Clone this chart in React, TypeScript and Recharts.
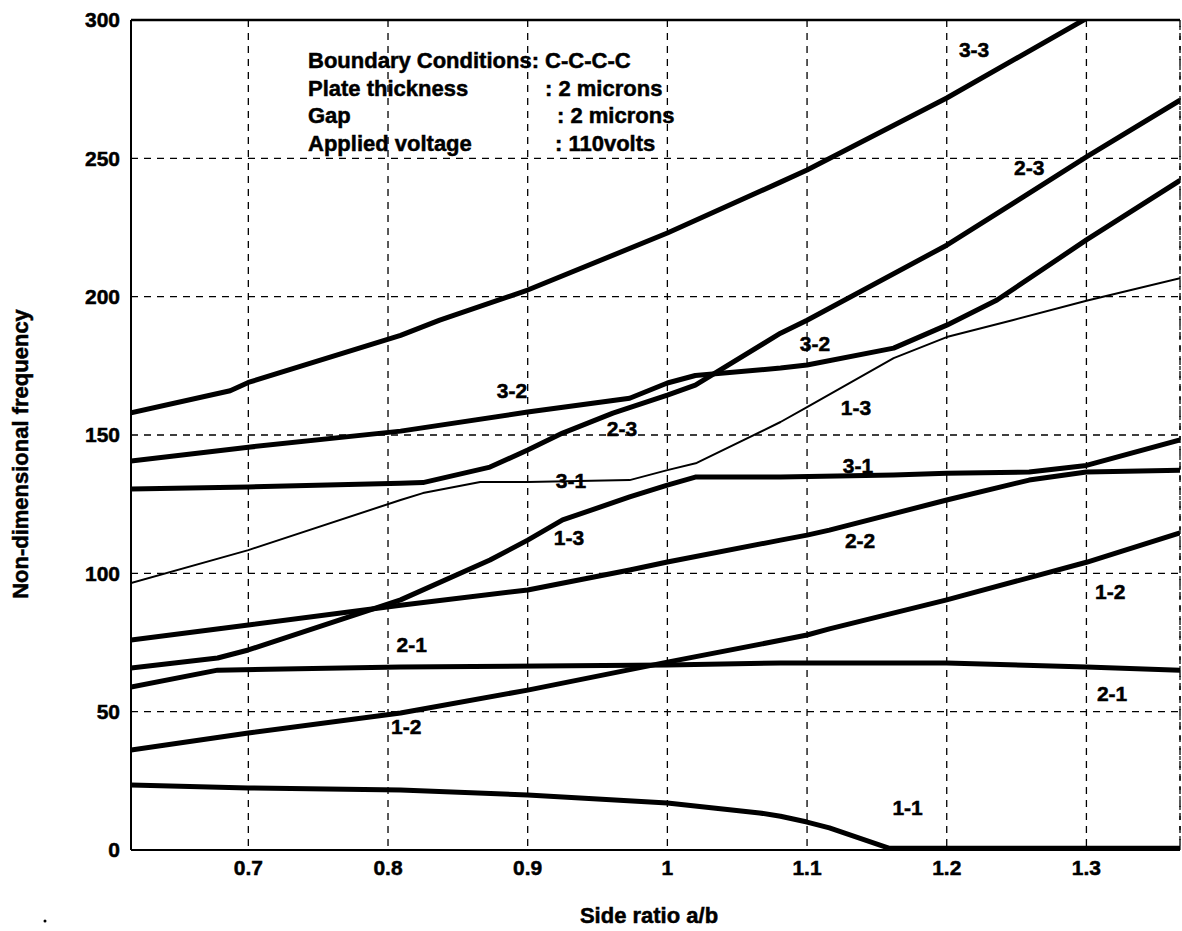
import React from 'react';
import {
  LineChart, Line, XAxis, YAxis, CartesianGrid, ReferenceLine, ReferenceDot,
} from 'recharts';

// Non-dimensional frequency vs side ratio a/b, clamped plate (C-C-C-C)
// Each curve is a list of [a/b, frequency] pairs.

const X_TICKS = [0.7, 0.8, 0.9, 1, 1.1, 1.2, 1.3];
const Y_TICKS = [0, 50, 100, 150, 200, 250, 300];
const X_DOMAIN: [number, number] = [0.616, 1.367];

const MODE_3_3: [number, number][] = [
  [0.616, 158], [0.687, 166], [0.7, 169], [0.809, 186], [0.837, 191.5],
  [0.9, 202.4], [1.0, 223], [1.081, 241.4], [1.1, 245.8], [1.2, 271.8],
  [1.298, 300], [1.367, 320],
];

const MODE_3_2: [number, number][] = [
  [0.616, 140.6], [0.7, 145.6], [0.809, 151.4], [0.9, 158.3], [0.973, 163.3],
  [1.0, 168.8], [1.02, 171.5], [1.081, 174.2], [1.1, 175.3], [1.162, 181.4],
  [1.2, 189.7], [1.236, 198.8], [1.3, 220.5], [1.367, 242],
];

const MODE_2_3: [number, number][] = [
  [0.616, 130.5], [0.7, 131.2], [0.809, 132.6], [0.825, 132.8], [0.873, 138.4],
  [0.9, 144.6], [0.925, 150.7], [0.961, 157.9], [1.0, 164.4], [1.02, 168],
  [1.081, 186.8], [1.1, 191.5], [1.2, 218.6], [1.3, 250.5], [1.367, 271],
];

// thin curve
const MODE_1_3_THIN: [number, number][] = [
  [0.616, 96.5], [0.7, 108.4], [0.809, 126.5], [0.825, 129], [0.866, 133],
  [0.9, 133], [0.973, 133.7], [1.0, 137.3], [1.021, 139.9], [1.081, 154.7],
  [1.1, 160.1], [1.162, 177.8], [1.2, 185.4], [1.247, 191.5], [1.3, 198.5],
  [1.367, 206.7],
];

const MODE_1_3: [number, number][] = [
  [0.616, 65.8], [0.678, 69.4], [0.7, 72.3], [0.809, 90.4], [0.873, 104.8],
  [0.9, 112], [0.925, 119.3], [0.973, 127.6], [1.0, 131.9], [1.02, 134.8],
  [1.081, 134.8], [1.162, 135.5], [1.2, 136.2], [1.259, 136.6], [1.3, 139],
  [1.367, 148.2],
];

const MODE_2_2: [number, number][] = [
  [0.616, 75.9], [0.7, 81.3], [0.809, 88.5], [0.9, 94], [0.973, 101.2],
  [1.0, 104.1], [1.081, 112], [1.1, 113.8], [1.116, 115.6], [1.2, 126.5],
  [1.259, 133.7], [1.3, 136.6], [1.367, 137.3],
];

const MODE_2_1: [number, number][] = [
  [0.616, 58.9], [0.678, 65], [0.809, 66.1], [1.0, 66.9], [1.081, 67.6],
  [1.2, 67.6], [1.3, 66.1], [1.367, 65],
];

const MODE_1_2: [number, number][] = [
  [0.616, 36.1], [0.7, 42.3], [0.809, 49.5], [0.9, 57.8], [1.0, 67.9],
  [1.081, 75.8], [1.1, 77.7], [1.116, 79.9], [1.2, 90.4], [1.3, 104],
  [1.367, 114.6],
];

const MODE_1_1: [number, number][] = [
  [0.616, 23.5], [0.7, 22.4], [0.809, 21.7], [0.9, 19.9], [1.0, 17],
  [1.066, 13.4], [1.081, 12.2], [1.1, 10.1], [1.116, 8], [1.159, 0.6],
  [1.367, 0.6],
];

// mode labels placed next to the curves: [a/b, frequency, text]
const CURVE_LABELS: [number, number, string][] = [
  [1.2196, 289.5, '3-3'],
  [1.259, 246.8, '2-3'],
  [0.8888, 166.2, '3-2'],
  [0.9675, 152.2, '2-3'],
  [0.931, 133.7, '3-1'],
  [0.9296, 113.1, '1-3'],
  [1.1057, 182.9, '3-2'],
  [1.135, 159.8, '1-3'],
  [1.1365, 138.8, '3-1'],
  [1.138, 111.7, '2-2'],
  [1.317, 93.3, '1-2'],
  [0.817, 74.1, '2-1'],
  [0.813, 44.5, '1-2'],
  [1.3184, 56.4, '2-1'],
  [1.172, 15.2, '1-1'],
];

const INFO_ROWS: [string, string][] = [
  ['Boundary Conditions: C-C-C-C', ''],
  ['Plate thickness', ': 2 microns'],
  ['Gap', ': 2 microns'],
  ['Applied voltage', ': 110volts'],
];

const SERIES = [
  { name: '3-3', points: MODE_3_3, width: 5 },
  { name: '3-2', points: MODE_3_2, width: 5 },
  { name: '2-3', points: MODE_2_3, width: 5 },
  { name: '1-3 thin', points: MODE_1_3_THIN, width: 2 },
  { name: '1-3', points: MODE_1_3, width: 5 },
  { name: '2-2', points: MODE_2_2, width: 5 },
  { name: '2-1', points: MODE_2_1, width: 5 },
  { name: '1-2', points: MODE_1_2, width: 5 },
  { name: '1-1', points: MODE_1_1, width: 5 },
];

const FONT = "'Liberation Sans', Arial, Helvetica, sans-serif";
// a thin outline makes the bold text a bit heavier
const tickStyle = { fontFamily: FONT, fontSize: 21, fontWeight: 700, fill: '#000', stroke: '#000', strokeWidth: 0.5 };

// value column x positions of the info block
const INFO_VALUE_X = [0, 545, 557, 555];

export default function App() {
  return (
    <div style={{ position: 'absolute', left: 0, top: 0, width: 1182, height: 931, background: '#fff' }}>
      <LineChart width={1182} height={931} margin={{ top: 20, right: 2, left: 0, bottom: 0 }}>
        <CartesianGrid stroke="#000" strokeWidth={1.3} strokeDasharray="7 6" />
        <XAxis
          type="number"
          dataKey="x"
          domain={X_DOMAIN}
          ticks={X_TICKS}
          allowDataOverflow
          height={81}
          tickSize={0}
          tickMargin={10}
          tick={tickStyle}
          tickFormatter={(v: number) => String(v)}
          axisLine={{ stroke: '#000', strokeWidth: 2 }}
        />
        <YAxis
          type="number"
          domain={[0, 300]}
          ticks={Y_TICKS}
          allowDataOverflow
          width={131}
          tickSize={0}
          tickMargin={11}
          tick={tickStyle}
          axisLine={{ stroke: '#000', strokeWidth: 2 }}
        />
        <ReferenceLine y={300} stroke="#000" strokeWidth={2.5} />
        <ReferenceLine x={X_DOMAIN[1]} stroke="#000" strokeWidth={1.2} strokeDasharray="4 6" />
        {SERIES.map(s => (
          <Line
            key={s.name}
            name={s.name}
            data={s.points.map(([x, y]) => ({ x, y }))}
            dataKey="y"
            type="linear"
            stroke="#000"
            strokeWidth={s.width}
            strokeLinejoin="round"
            dot={false}
            activeDot={false}
            isAnimationActive={false}
          />
        ))}
        {CURVE_LABELS.map(([x, y, text], i) => (
          <ReferenceDot
            key={i}
            x={x}
            y={y}
            r={0}
            fill="none"
            stroke="none"
            label={{
              value: text, position: 'center', fill: '#000', stroke: '#000', strokeWidth: 0.5,
              fontSize: 21, fontWeight: 700, fontFamily: FONT,
            }}
          />
        ))}
      </LineChart>

      {/* titles and the parameter block */}
      <svg width={1182} height={931} style={{ position: 'absolute', left: 0, top: 0, pointerEvents: 'none' }}>
        <g fontFamily={FONT} fontWeight={700} fontSize={22} fill="#000" stroke="#000" strokeWidth={0.5}>
          {INFO_ROWS.map(([label, value], i) => (
            <g key={i}>
              <text x={308} y={68 + i * 27.7}>{label}</text>
              {value && <text x={INFO_VALUE_X[i]} y={68 + i * 27.7}>{value}</text>}
            </g>
          ))}
          <text x={649} y={923} textAnchor="middle">Side ratio a/b</text>
          <text x={28} y={454} textAnchor="middle" transform="rotate(-90 28 454)">Non-dimensional frequency</text>
        </g>
        <circle cx={45} cy={921} r={1.5} fill="#000" />
      </svg>
    </div>
  );
}
